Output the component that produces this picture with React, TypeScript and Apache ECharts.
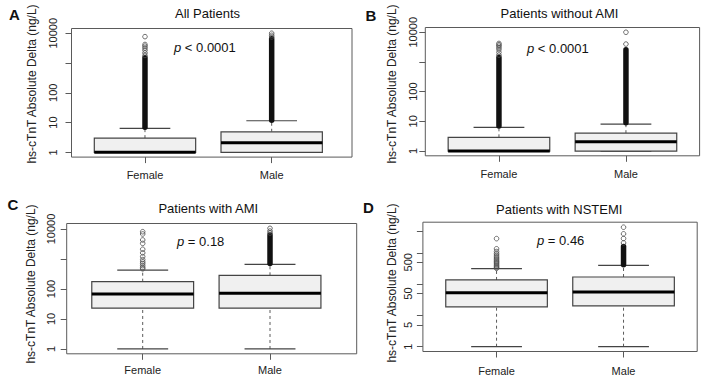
import { useEffect, useRef } from "react";
import * as echarts from "echarts";

const categories = ["Female", "Male"];
const panelLetters = ["A", "B", "C", "D"];
const panelTitles = ["All Patients", "Patients without AMI", "Patients with AMI", "Patients with NSTEMI"];
const pValues = ["< 0.0001", "< 0.0001", "= 0.18", "= 0.46"];
const yAxisTitle = "hs-cTnT Absolute Delta (ng/L)";

const yTicksDecades = [1, 10, 100, 1000, 10000];
const yLabelsDecades = [1, 10, 100, 10000];
const yTicksD = [1, 5, 10, 50, 100, 500, 1000, 5000];
const yLabelsD = [1, 5, 50, 500];

// [lower whisker, Q1, median, Q3, upper whisker] — Female, Male
const boxA = [[1, 1, 1, 3, 6.4], [1, 1, 2.1, 4.9, 11.5]];
const boxB = [[1, 1, 1, 2.9, 6.3], [1, 1, 2.05, 4, 8.1]];
const boxC = [[1, 22.9, 68, 175, 427], [1, 22.9, 72, 285, 662]];
const boxD = [[1, 18.9, 52.6, 136, 313], [1, 20.3, 56.5, 169, 398]];

// runs of heavily overlapping outliers [from, to] — Female, Male
const denseA = [[7, 1500], [12, 6500]];
const denseB = [[7, 1400], [9, 2600]];
const denseC = [[], [700, 6300]];
const denseD = [[], [420, 1600]];

// individually visible outliers — Female, Male
const outliersA = [[1800, 2200, 2700, 3200, 3700, 4200, 7700], [7500, 8500, 10000]];
const outliersB = [[1700, 2100, 2600, 3000, 3400, 3800, 4200], [4000, 10000]];
const outliersC = [
  [470, 520, 600, 700, 800, 950, 1200, 1600, 2100, 3300, 4300, 6800, 8100],
  [7300, 8500, 10500],
];
const outliersD = [
  [320, 340, 370, 400, 440, 480, 520, 560, 620, 680, 750, 850, 950, 1100, 1350, 2850],
  [2090, 2870, 4050, 6600],
];

const FONT = "'Liberation Sans', Arial, Helvetica, sans-serif";

const layout = [
  { left: 71.5, right: 352, xmin: 0.42, xmax: 2.634, top: 28.5, height: 128.6, lo: -0.16, hi: 4.16, xm: 12, ym: 13.5,
    letter: [14.5, 14.5], title: [207.5, 13.5], p: [174, 47.7], yt: [31.7, 84] },
  { left: 425.3, right: 699.6, xmin: 0.42, xmax: 2.58, top: 27.5, height: 128.3, lo: -0.16, hi: 4.16, xm: 13, ym: 7,
    letter: [371, 15], title: [559.5, 13.5], p: [527, 48.3], yt: [391.7, 84] },
  { left: 66.7, right: 356.7, xmin: 0.403, xmax: 2.681, top: 223.5, height: 130.3, lo: -0.161, hi: 4.182, xm: 11, ym: 10.7,
    letter: [12.8, 204.5], title: [208.3, 208.3], p: [177, 241.7], yt: [31, 284] },
  { left: 422.9, right: 697.2, xmin: 0.42, xmax: 2.58, top: 222.2, height: 129.3, lo: -0.153, hi: 3.98, xm: 13.5, ym: 9.9,
    letter: [368.3, 207.5], title: [559.2, 209], p: [537, 240], yt: [392, 283] },
];

const boxes = [boxA, boxB, boxC, boxD];
const denses = [denseA, denseB, denseC, denseD];
const outliers = [outliersA, outliersB, outliersC, outliersD];
const tickSets = [yTicksDecades, yTicksDecades, yTicksDecades, yTicksD];
const labelSets = [yLabelsDecades, yLabelsDecades, yLabelsDecades, yLabelsD];

export default function App() {
  const ref = useRef<HTMLDivElement>(null);
  useEffect(() => {
    const chart = echarts.init(ref.current!, null, { renderer: "svg" });
    const grid: any[] = [];
    const xAxis: any[] = [];
    const yAxis: any[] = [];
    const series: any[] = [];
    const graphic: any[] = [];
    const LINE = "#5a5a5a";

    layout.forEach((p, i) => {
      grid.push({
        left: p.left, top: p.top, width: p.right - p.left, height: p.height,
        show: true, borderColor: "#5a5a5a", borderWidth: 1, backgroundColor: "transparent",
      });
      xAxis.push({
        type: "value", gridIndex: i, min: p.xmin, max: p.xmax,
        axisLine: { show: false }, splitLine: { show: false },
        axisTick: { show: true, customValues: [1, 2], length: 6, lineStyle: { color: "#5a5a5a" } },
        axisLabel: {
          customValues: [1, 2], margin: p.xm, fontSize: 11, color: "#222", fontFamily: FONT,
          formatter: (v: number) => categories[Math.round(v) - 1] ?? "",
        },
      });
      yAxis.push({
        type: "log", logBase: 10, gridIndex: i, min: Math.pow(10, p.lo), max: Math.pow(10, p.hi),
        axisLine: { show: false }, splitLine: { show: false },
        axisTick: { show: true, customValues: tickSets[i], length: 6, lineStyle: { color: "#5a5a5a" } },
        axisLabel: {
          customValues: labelSets[i], rotate: 90, margin: p.ym, fontSize: 11, color: "#222", fontFamily: FONT,
          formatter: (v: number) => String(Math.round(v)),
        },
      });

      series.push({
        type: "custom", xAxisIndex: i, yAxisIndex: i, silent: true,
        data: boxes[i].map((b, k) => [k + 1, ...b]),
        renderItem: (_params: any, api: any) => {
          const x = api.value(0);
          const lo = api.value(1), q1 = api.value(2), med = api.value(3), q3 = api.value(4), hi = api.value(5);
          const c = (xx: number, yy: number) => api.coord([xx, yy]);
          const pQ3L = c(x - 0.4, q3), pQ1R = c(x + 0.4, q1);
          const pm = c(x, 1);
          const line = (a: number[], b: number[], dash: boolean, w = 1, col = LINE) => ({
            type: "line",
            shape: { x1: a[0], y1: a[1], x2: b[0], y2: b[1] },
            style: { stroke: col, lineWidth: w, lineDash: dash ? [3, 3] : null },
          });
          return {
            type: "group",
            children: [
              line([pm[0], c(x, q3)[1]], [pm[0], c(x, hi)[1]], true),
              line([pm[0], c(x, lo)[1]], [pm[0], c(x, q1)[1]], true),
              line(c(x - 0.2, hi), c(x + 0.2, hi), false, 1.2, "#444"),
              line(c(x - 0.2, lo), c(x + 0.2, lo), false, 1.2, "#444"),
              {
                type: "rect",
                shape: { x: pQ3L[0], y: pQ3L[1], width: pQ1R[0] - pQ3L[0], height: pQ1R[1] - pQ3L[1] },
                style: { fill: "#f0f0f0", stroke: "#444", lineWidth: 1.2 },
              },
              line(c(x - 0.4, med), c(x + 0.4, med), false, 3, "#000"),
            ],
          };
        },
      });

      const denseData: number[][] = [];
      denses[i].forEach((d, k) => { if (d.length === 2) denseData.push([k + 1, d[0], d[1]]); });
      series.push({
        type: "custom", xAxisIndex: i, yAxisIndex: i, silent: true,
        data: denseData,
        renderItem: (_params: any, api: any) => {
          const a = api.coord([api.value(0), api.value(1)]);
          const b = api.coord([api.value(0), api.value(2)]);
          return {
            type: "line",
            shape: { x1: a[0], y1: a[1], x2: b[0], y2: b[1] },
            style: { stroke: "#111", lineWidth: 5.5, lineCap: "round" },
          };
        },
      });

      series.push({
        type: "scatter", xAxisIndex: i, yAxisIndex: i, silent: true,
        symbol: "circle", symbolSize: 4.6,
        itemStyle: { color: "rgba(0,0,0,0)", borderColor: "#4a4a4a", borderWidth: 1 },
        data: outliers[i].flatMap((arr, k) => arr.map((v) => [k + 1, v])),
      });

      graphic.push(
        {
          type: "text", x: p.letter[0], y: p.letter[1],
          style: { text: panelLetters[i], font: `bold 15px ${FONT}`, fill: "#111", textAlign: "center", textVerticalAlign: "middle" },
        },
        {
          type: "text", x: p.title[0], y: p.title[1],
          style: { text: panelTitles[i], font: `13px ${FONT}`, fill: "#111", textAlign: "center", textVerticalAlign: "middle" },
        },
        {
          type: "text", x: p.p[0], y: p.p[1],
          style: {
            text: `{i|p} ${pValues[i]}`, font: `13px ${FONT}`, fill: "#111", textAlign: "left", textVerticalAlign: "middle",
            rich: { i: { font: `italic 13px ${FONT}`, fill: "#111" } },
          },
        },
        {
          type: "text", x: p.yt[0], y: p.yt[1], rotation: Math.PI / 2,
          style: { text: yAxisTitle, font: `12px ${FONT}`, fill: "#222", textAlign: "center", textVerticalAlign: "middle" },
        },
      );
    });

    chart.setOption({
      animation: false,
      backgroundColor: "#fff",
      grid, xAxis, yAxis, series, graphic,
    });
    return () => chart.dispose();
  }, []);

  return (
    <div
      ref={ref}
      style={{ position: "fixed", left: 0, top: 0, width: 708, height: 385, background: "#fff" }}
    />
  );
}
